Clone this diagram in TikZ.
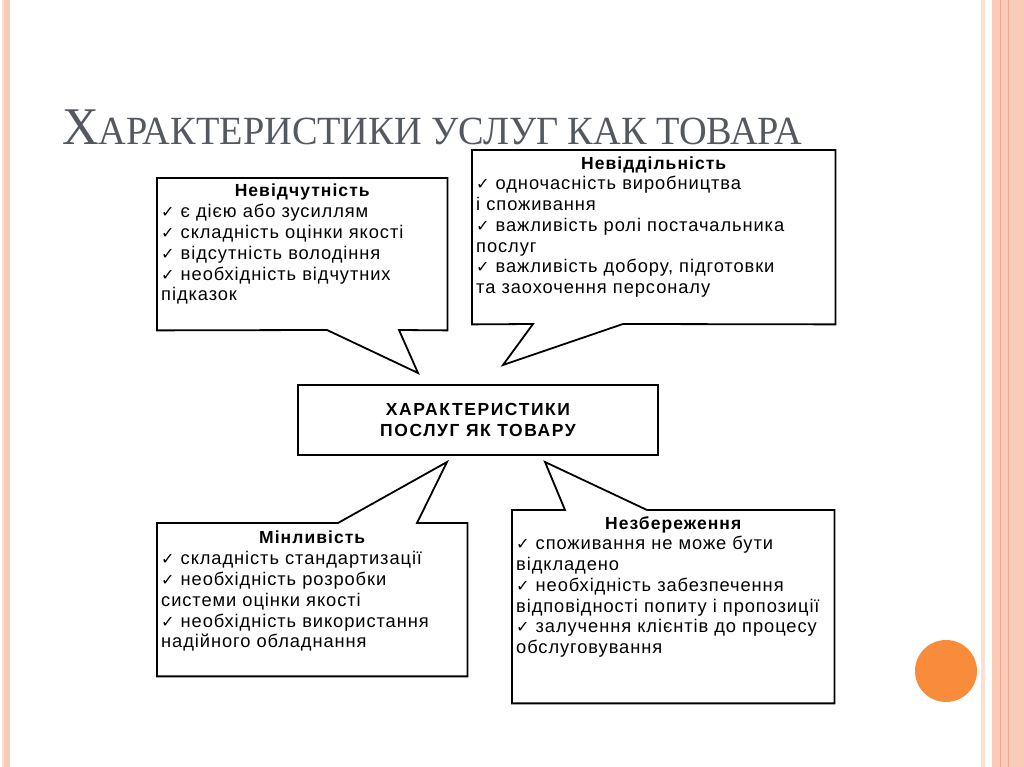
\documentclass[tikz,border=0pt]{standalone}
\usepackage{fontspec}
\setmainfont[LetterSpace=6]{Liberation Sans}
\newfontfamily\bodyfont[LetterSpace=5]{Liberation Sans}
\newfontfamily\corefont[LetterSpace=9]{Liberation Sans}
\newfontfamily\titlefont{Liberation Serif}
\newfontfamily\symfont{DejaVu Sans}
\usepackage{tikz}
\usetikzlibrary{positioning, calc}
\definecolor{slideOrange}{RGB}{249,140,58}
\definecolor{stripePink}{RGB}{249,204,184}
\definecolor{stripeDark}{RGB}{236,168,142}
\definecolor{stripeLight}{RGB}{251,224,210}
\definecolor{titleGray}{RGB}{84,89,96}
\newcommand{\chk}{{\symfont\fontsize{16}{16}\selectfont ✓}}
\tikzset{
    bubble/.style 2 args={rectangle, inner sep=0pt, anchor=north west,
                          minimum width=#1, minimum height=#2},
    outline/.style={draw=black, line width=1.8pt, line join=miter, fill=white},
    ttl/.style={font=\fontsize{17.5}{20.7}\selectfont\bfseries, anchor=base, inner sep=0pt},
    body/.style={font=\bodyfont\fontsize{18.3}{20.7}\selectfont, align=left, text width=360pt,
                 anchor=base west, inner sep=0pt},
    core/.style={rectangle, draw=black, line width=1.8pt, align=center,
                 minimum width=360pt, minimum height=70pt,
                 font=\corefont\fontsize{17.5}{21}\selectfont\bfseries}
}

\begin{document}
\begin{tikzpicture}[x=1pt, y=1pt]
    \useasboundingbox (0,0) rectangle (1024,767);
    \fill[white] (0,0) rectangle (1024,767);

    % slide frame
    \fill[stripeLight] (2,0) rectangle (4,767);
    \fill[stripePink] (4,0) rectangle (10,767);
    \fill[stripeLight] (981,0) rectangle (985,767);
    \fill[stripePink] (992,0) rectangle (1024,767);
    \draw[stripeDark, line width=1pt] (1000,0) -- (1000,767);
    \draw[stripeDark, line width=0.6pt] (1008,0) -- (1008,767);
    \node[circle, fill=slideOrange, inner sep=0pt, minimum size=62pt] (dot) at (946,96) {};

    \node[anchor=base west, inner sep=0pt, text=titleGray] (title) at (62,622)
        {\titlefont\scalebox{0.958}[1]{{\fontsize{53}{53}\selectfont Х}{\fontsize{40}{40}\selectfont АРАКТЕРИСТИКИ УСЛУГ КАК ТОВАРА}}};

    % callout frames
    \node[bubble={290pt}{152pt}] (nevid) at (157,589) {};
    \node[bubble={363pt}{174pt}] (nevidd) at (472,617) {};
    \node[bubble={310pt}{153pt}] (minl) at (157,244) {};
    \node[bubble={322pt}{193pt}] (nezb) at (512,257) {};

    \coordinate (nevidA) at (327,437);
    \coordinate (nevidB) at (399,437);
    \coordinate (nevidTip) at (418,394);
    \coordinate (nevidd A) at (533,443);
    \coordinate (nevidd B) at (623,443);
    \coordinate (nevidd Tip) at (503,402);
    \coordinate (minlA) at (338,244);
    \coordinate (minlB) at (417,244);
    \coordinate (minlTip) at (447,305);
    \coordinate (nezbA) at (565,257);
    \coordinate (nezbB) at (647,257);
    \coordinate (nezbTip) at (545,305);

    \draw[outline] (nevid.north west) -- (nevid.north east) -- (nevid.south east)
        -- (nevidB) -- (nevidTip) -- (nevidA) -- (nevid.south west) -- cycle;
    \draw[outline] (nevidd.north west) -- (nevidd.north east) -- (nevidd.south east)
        -- (nevidd B) -- (nevidd Tip) -- (nevidd A) -- (nevidd.south west) -- cycle;
    \draw[outline] (minl.north west) -- (minlA) -- (minlTip) -- (minlB)
        -- (minl.north east) -- (minl.south east) -- (minl.south west) -- cycle;
    \draw[outline] (nezb.north west) -- (nezbA) -- (nezbTip) -- (nezbB)
        -- (nezb.north east) -- (nezb.south east) -- (nezb.south west) -- cycle;

    \node[core] (centre) at (478,347) {ХАРАКТЕРИСТИКИ\\ПОСЛУГ ЯК ТОВАРУ};

    % callout texts
    \node[ttl] (nevidT) at ([yshift=-19pt]nevid.north) {Невідчутність};
    \node[body] (nevidL) at ([xshift=4pt, yshift=-40pt]nevid.north west)
        {\chk\ є дією або зусиллям\\
         \chk\ складність оцінки якості\\
         \chk\ відсутність володіння\\
         \chk\ необхідність відчутних\\
         підказок};

    \node[ttl] (nevidd T) at ([yshift=-20pt]nevidd.north) {Невіддільність};
    \node[body] (nevidd L) at ([xshift=4pt, yshift=-40pt]nevidd.north west)
        {\chk\ одночасність виробництва\\
         і споживання\\
         \chk\ важливість ролі постачальника\\
         послуг\\
         \chk\ важливість добору, підготовки\\
         та заохочення персоналу};

    \node[ttl] (minlT) at ([yshift=-21pt]minl.north) {Мінливість};
    \node[body] (minlL) at ([xshift=4pt, yshift=-42pt]minl.north west)
        {\chk\ складність стандартизації\\
         \chk\ необхідність розробки\\
         системи оцінки якості\\
         \chk\ необхідність використання\\
         надійного обладнання};

    \node[ttl] (nezbT) at ([yshift=-20pt]nezb.north) {Незбереження};
    \node[body] (nezbL) at ([xshift=4pt, yshift=-40pt]nezb.north west)
        {\chk\ споживання не може бути\\
         відкладено\\
         \chk\ необхідність забезпечення\\
         відповідності попиту і пропозиції\\
         \chk\ залучення клієнтів до процесу\\
         обслуговування};
\end{tikzpicture}
\end{document}
